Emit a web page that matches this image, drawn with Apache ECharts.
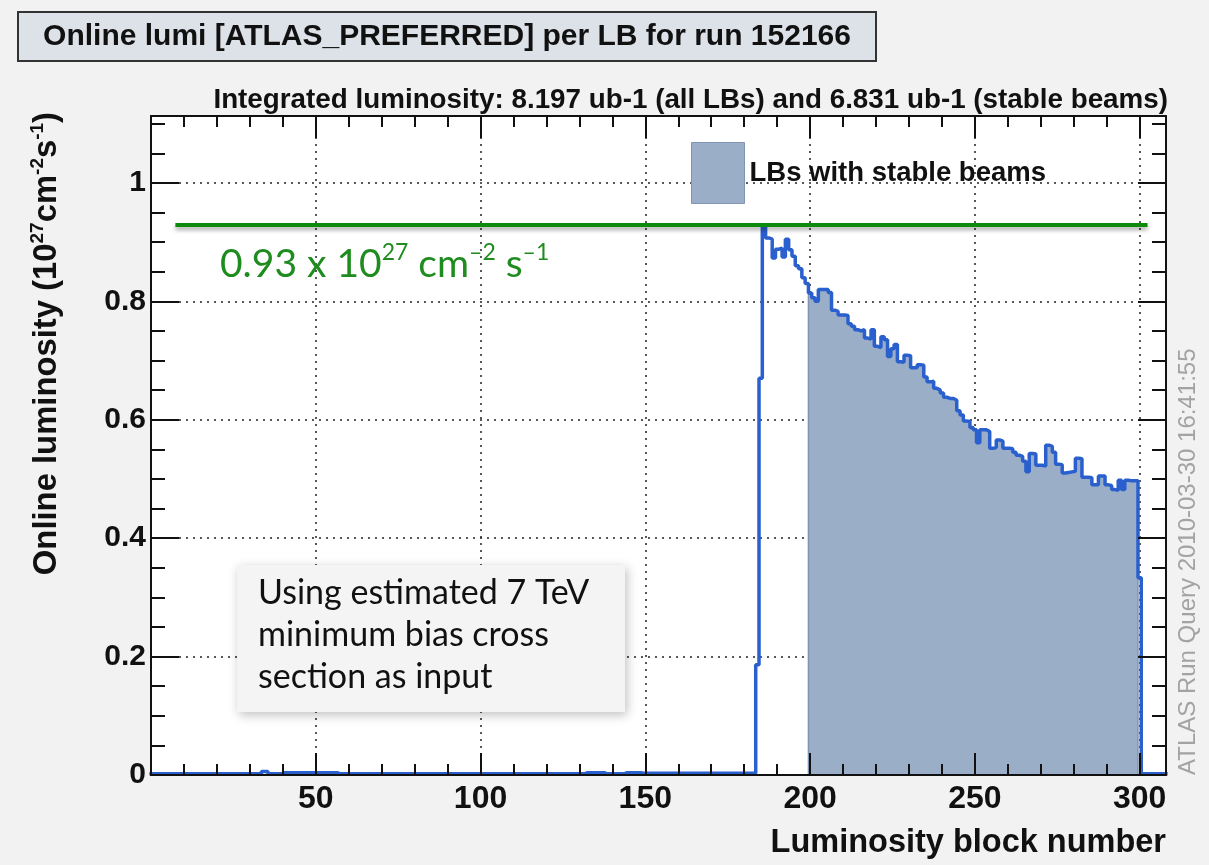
<!DOCTYPE html>
<html>
<head>
<meta charset="utf-8">
<title>Online lumi per LB, run 152166</title>
<script src="https://cdn.jsdelivr.net/npm/echarts@6/dist/echarts.min.js"></script>
<style>
  html, body { margin: 0; padding: 0; background: #f2f2f2; }
  #chart { width: 1209px; height: 865px; }
</style>
</head>
<body>
<div id="chart"></div>
<script>
// luminosity per LB (10^27 cm^-2 s^-1), LB 0..183 before beams were colliding
const lumiBaseline = [
  0.002, 0.002, 0.002, 0.002, 0.002, 0.002, 0.002, 0.002, 0.002, 0.002,
  0.002, 0.002, 0.002, 0.002, 0.002, 0.002, 0.002, 0.002, 0.002, 0.002,
  0.002, 0.002, 0.002, 0.002, 0.002, 0.002, 0.002, 0.002, 0.002, 0.002,
  0.002, 0.002, 0.002, 0.002, 0.006, 0.006, 0.002, 0.002, 0.002, 0.002,
  0.004, 0.004, 0.004, 0.004, 0.004, 0.004, 0.004, 0.004, 0.004, 0.004,
  0.004, 0.004, 0.004, 0.004, 0.004, 0.004, 0.004, 0.002, 0.002, 0.002,
  0.002, 0.002, 0.002, 0.002, 0.002, 0.002, 0.002, 0.002, 0.002, 0.002,
  0.002, 0.002, 0.002, 0.002, 0.002, 0.002, 0.002, 0.002, 0.002, 0.002,
  0.002, 0.002, 0.002, 0.002, 0.002, 0.002, 0.002, 0.002, 0.002, 0.002,
  0.002, 0.002, 0.002, 0.002, 0.002, 0.002, 0.002, 0.002, 0.002, 0.002,
  0.002, 0.002, 0.002, 0.002, 0.002, 0.002, 0.002, 0.002, 0.002, 0.002,
  0.002, 0.002, 0.002, 0.002, 0.002, 0.002, 0.002, 0.002, 0.002, 0.002,
  0.002, 0.002, 0.002, 0.002, 0.002, 0.002, 0.002, 0.002, 0.002, 0.002,
  0.002, 0.002, 0.004, 0.004, 0.004, 0.004, 0.004, 0.004, 0.002, 0.002,
  0.002, 0.002, 0.002, 0.002, 0.004, 0.004, 0.004, 0.004, 0.004, 0.003,
  0.003, 0.003, 0.003, 0.003, 0.003, 0.003, 0.003, 0.003, 0.003, 0.003,
  0.003, 0.003, 0.003, 0.003, 0.003, 0.003, 0.003, 0.003, 0.003, 0.003,
  0.003, 0.003, 0.003, 0.003, 0.003, 0.003, 0.003, 0.003, 0.003, 0.003,
  0.003, 0.003, 0.003, 0.003
];
// LB 184..300
const lumiBeam = [
  0.186, 0.670, 0.925, 0.907, 0.905, 0.873, 0.888, 0.890, 0.875, 0.905,
  0.887, 0.876, 0.860, 0.855, 0.840, 0.830, 0.814, 0.806, 0.800, 0.820,
  0.820, 0.820, 0.815, 0.785, 0.783, 0.777, 0.777, 0.776, 0.762, 0.758,
  0.752, 0.750, 0.752, 0.738, 0.736, 0.752, 0.724, 0.722, 0.740, 0.735,
  0.707, 0.720, 0.727, 0.698, 0.697, 0.709, 0.708, 0.688, 0.688, 0.693,
  0.692, 0.672, 0.664, 0.665, 0.653, 0.650, 0.645, 0.638, 0.636, 0.636,
  0.633, 0.615, 0.608, 0.598, 0.597, 0.587, 0.583, 0.561, 0.583, 0.583,
  0.580, 0.552, 0.553, 0.566, 0.564, 0.552, 0.552, 0.551, 0.545, 0.540,
  0.538, 0.530, 0.512, 0.543, 0.542, 0.523, 0.523, 0.522, 0.557, 0.555,
  0.545, 0.525, 0.524, 0.510, 0.511, 0.512, 0.513, 0.535, 0.534, 0.503,
  0.503, 0.502, 0.490, 0.490, 0.505, 0.505, 0.490, 0.489, 0.482, 0.481,
  0.498, 0.482, 0.498, 0.497, 0.497, 0.497, 0.333
];
// LB 301..308 after the beams were dumped
const lumiTail = [0.002, 0.002, 0.002, 0.002, 0.002, 0.002, 0.002, 0.002];

const stableFirst = 200;
const stableLast = 299;
const refLumi = 0.93;
const refLineFrom = 7.4;
const refLineTo = 302.4;

const xTickLabels = [50, 100, 150, 200, 250, 300];
const yTickLabels = [0, 0.2, 0.4, 0.6, 0.8, 1];

const lumi = lumiBaseline.concat(lumiBeam, lumiTail);

// histogram as step points on the bin left edges (bins centred on the LB number)
function histEdges(first, values) {
  const pts = [];
  values.forEach(function (v, i) { pts.push([first + i - 0.5, v]); });
  pts.push([first + values.length - 0.5, values[values.length - 1]]);
  return pts;
}

const stableVals = lumi.slice(stableFirst, stableLast + 1);
const stablePts = [[stableFirst - 0.5, 0]]
  .concat(histEdges(stableFirst, stableVals))
  .concat([[stableLast + 0.5, 0]]);

const bold = { fontFamily: 'Liberation Sans', fontWeight: 'bold', color: '#111' };
const tickLine = { color: '#111', width: 2 };
const dotted = { color: '#222', width: 1.5, type: [2, 5] };

// frame axes: line + ticks only, drawn above the data
function tickAxis(pos, extra) {
  return Object.assign({
    type: 'value',
    position: pos,
    z: 10,
    axisLine: { show: true, onZero: false, lineStyle: tickLine },
    axisLabel: { show: false },
    splitLine: { show: false }
  }, extra);
}

const xBase = { min: 0, max: 308, interval: 50 };
const yBase = { min: 0, max: 1.113, interval: 0.2 };
const xTicks = {
  axisTick: { show: true, inside: true, length: 22, lineStyle: tickLine },
  minorTick: { show: true, splitNumber: 5, length: 11, lineStyle: tickLine }
};
const yTicks = {
  axisTick: { show: true, inside: true, length: 28, lineStyle: tickLine },
  minorTick: { show: true, splitNumber: 4, length: 14, lineStyle: tickLine }
};

const chart = echarts.init(document.getElementById('chart'));
chart.setOption({
  backgroundColor: '#f2f2f2',
  animation: false,
  grid: {
    left: 151, right: 43, top: 116, bottom: 90,
    show: true, backgroundColor: '#ffffff', borderWidth: 0
  },
  legend: {
    left: 691, top: 142, padding: 0,
    icon: 'rect', itemWidth: 53, itemHeight: 61,
    selectedMode: false,
    data: ['LBs with stable beams'],
    itemStyle: { borderColor: '#7f95b3', borderWidth: 1 },
    textStyle: Object.assign({}, bold, { fontSize: 27.5 })
  },
  xAxis: [
    Object.assign({
      type: 'value', position: 'bottom',
      axisLine: { show: false, onZero: false }, axisTick: { show: false },
      axisLabel: Object.assign({}, bold, {
        fontSize: 32, margin: 8,
        formatter: function (v) { return xTickLabels.indexOf(v) >= 0 ? String(v) : ''; }
      }),
      splitLine: { show: true, lineStyle: dotted },
      name: 'Luminosity block number', nameLocation: 'end', nameGap: 0,
      nameTextStyle: Object.assign({}, bold, {
        fontSize: 32.5, align: 'right', verticalAlign: 'top', padding: [52, 0, 0, 0]
      })
    }, xBase),
    tickAxis('bottom', Object.assign({}, xBase, xTicks)),
    tickAxis('top', Object.assign({}, xBase, xTicks))
  ],
  yAxis: [
    Object.assign({
      type: 'value', position: 'left',
      axisLine: { show: false, onZero: false }, axisTick: { show: false },
      axisLabel: Object.assign({}, bold, {
        fontSize: 30, margin: 5,
        formatter: function (v) { return yTickLabels.indexOf(v) >= 0 ? String(v) : ''; }
      }),
      splitLine: { show: true, lineStyle: dotted }
    }, yBase),
    tickAxis('left', Object.assign({}, yBase, yTicks)),
    tickAxis('right', Object.assign({}, yBase, yTicks))
  ],
  series: [
    {
      name: 'LBs with stable beams',
      type: 'line', step: 'end', silent: true,
      xAxisIndex: 0, yAxisIndex: 0, z: 2,
      symbol: 'none',
      data: stablePts,
      itemStyle: { color: '#9aafc7' },
      lineStyle: { color: '#7f95b3', width: 1.5 },
      areaStyle: { color: '#9aafc7', opacity: 1 }
    },
    {
      name: 'lumi',
      type: 'line', step: 'end', silent: true,
      xAxisIndex: 0, yAxisIndex: 0, z: 3,
      symbol: 'none',
      data: histEdges(0, lumi),
      itemStyle: { color: '#2a5fce' },
      lineStyle: { color: '#2a5fce', width: 3.5 },
      markLine: {
        silent: true, animation: false,
        symbol: ['none', 'none'],
        label: { show: false },
        lineStyle: {
          color: '#0b8a0b', width: 4, type: 'solid',
          shadowBlur: 4, shadowColor: 'rgba(0,0,0,0.35)', shadowOffsetY: 3
        },
        data: [[{ coord: [refLineFrom, refLumi] }, { coord: [refLineTo, refLumi] }]]
      }
    }
  ],
  graphic: [
    {
      type: 'rect', z: 20,
      shape: { x: 18, y: 12, width: 858, height: 49 },
      style: { fill: '#dde2e9', stroke: '#333', lineWidth: 2 }
    },
    {
      type: 'text', z: 21, x: 447, y: 37,
      style: {
        text: 'Online lumi [ATLAS_PREFERRED] per LB for run 152166',
        fontFamily: 'Liberation Sans', fontWeight: 'bold', fontSize: 30,
        fill: '#111', align: 'center', verticalAlign: 'middle'
      }
    },
    {
      type: 'text', z: 21, x: 1168, y: 100,
      style: {
        text: 'Integrated luminosity: 8.197 ub-1 (all LBs) and 6.831 ub-1 (stable beams)',
        fontFamily: 'Liberation Sans', fontWeight: 'bold', fontSize: 27.8,
        fill: '#111', align: 'right', verticalAlign: 'middle'
      }
    },
    {
      // y axis title, reads bottom to top
      type: 'text', z: 21, x: 47, y: 112, rotation: Math.PI / 2,
      style: {
        text: '{b|Online luminosity (10}{s|27}{b|cm}{s|-2}{b|s}{s|-1}{b|)}',
        align: 'right', verticalAlign: 'middle',
        rich: {
          b: { fontFamily: 'Liberation Sans', fontWeight: 'bold', fontSize: 32.8, fill: '#111', lineHeight: 38 },
          s: { fontFamily: 'Liberation Sans', fontWeight: 'bold', fontSize: 19, fill: '#111', verticalAlign: 'top', lineHeight: 38 }
        }
      }
    },
    {
      type: 'text', z: 21, x: 1188, y: 775, rotation: Math.PI / 2,
      style: {
        text: 'ATLAS Run Query 2010-03-30 16:41:55',
        fontFamily: 'Liberation Sans', fontSize: 24,
        fill: '#a3a3a3', align: 'left', verticalAlign: 'middle'
      }
    },
    {
      type: 'text', z: 21, x: 220, y: 264,
      style: {
        text: '{n|0.93 x 10}{s|27}{n| cm}{s|–2}{n| s}{s|–1}',
        align: 'left', verticalAlign: 'middle',
        rich: {
          n: { fontFamily: 'Lato', fontSize: 39, fill: '#1e8c1e', lineHeight: 46 },
          s: { fontFamily: 'Lato', fontSize: 23, fill: '#1e8c1e', verticalAlign: 'top', lineHeight: 46 }
        }
      }
    },
    {
      type: 'rect', z: 20,
      shape: { x: 237, y: 565, width: 388, height: 147 },
      style: {
        fill: '#f4f4f4',
        shadowBlur: 10, shadowColor: 'rgba(0,0,0,0.25)', shadowOffsetX: 2, shadowOffsetY: 3
      }
    },
    {
      type: 'text', z: 21, x: 258, y: 572,
      style: {
        text: 'Using estimated 7 TeV\nminimum bias cross\nsection as input',
        fontFamily: 'Lato', fontSize: 34, lineHeight: 42,
        fill: '#111', align: 'left', verticalAlign: 'top'
      }
    }
  ]
});
</script>
</body>
</html>
